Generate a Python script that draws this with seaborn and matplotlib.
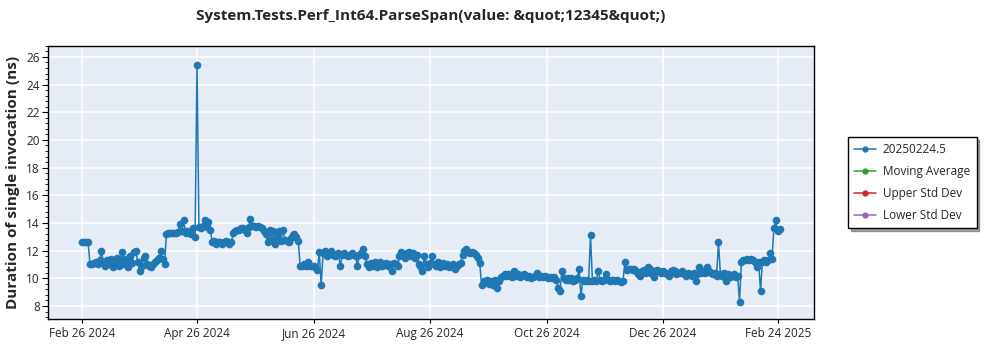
import numpy as np
import pandas as pd
import matplotlib
matplotlib.use("Agg")
import matplotlib.pyplot as plt
import matplotlib.dates as mdates
from matplotlib.lines import Line2D
from matplotlib.ticker import MultipleLocator
import seaborn as sns

title = "System.Tests.Perf_Int64.ParseSpan(value: &quot;12345&quot;)"
ylabel = "Duration of single invocation (ns)"
series_name = "20250224.5"
legend_labels = ["20250224.5", "Moving Average", "Upper Std Dev", "Lower Std Dev"]
start_date = "2024-02-26"

# one value per day starting at start_date
durations = [
    12.6, 12.6, 12.65, 12.6, 11.0, 11.0, 11.1, 11.2, 11.0, 11.3,
    12.0, 11.1, 10.9, 11.3, 11.0, 11.4, 10.8, 11.2, 11.5, 10.9,
    11.3, 11.9, 11.0, 11.4, 10.8, 11.6, 11.1, 11.9, 12.0, 11.2,
    10.5, 10.9, 11.5, 11.6, 11.0, 10.9, 10.8, 11.0, 11.2, 11.3,
    11.5, 12.0, 11.4, 11.0, 13.2, 13.3, 13.25, 13.3, 13.3, 13.3,
    13.35, 13.9, 13.4, 14.2, 13.3, 13.4, 13.3, 13.2, 13.6, 13.0,
    25.4, 13.7, 13.6, 13.8, 14.2, 13.7, 14.1, 13.5, 12.6, 12.7,
    12.5, 12.6, 12.6, 12.5, 12.6, 12.7, 12.6, 12.5, 12.6, 13.3,
    13.4, 13.5, 13.5, 13.6, 13.6, 13.5, 13.3, 13.7, 14.3, 13.8,
    13.8, 13.7, 13.8, 13.7, 13.6, 13.4, 13.2, 12.6, 13.5, 12.8,
    13.4, 12.5, 13.0, 13.4, 12.7, 13.5, 12.8, 12.7, 12.6, 12.9,
    13.1, 13.2, 13.0, 12.7, 10.9, 10.9, 11.0, 10.9, 11.2, 10.9,
    10.9, 10.9, 10.8, 10.6, 11.9, 9.5, 11.8, 12.0, 11.6, 11.8,
    12.0, 11.7, 11.6, 11.7, 11.8, 10.9, 11.7, 11.8, 11.7, 11.6,
    11.7, 11.8, 11.7, 11.6, 10.9, 11.7, 11.8, 12.1, 11.6, 11.0,
    10.8, 11.1, 10.9, 11.2, 10.8, 11.0, 11.2, 10.9, 11.0, 11.1,
    10.9, 11.0, 10.5, 11.1, 11.0, 10.9, 11.6, 11.9, 11.7, 11.5,
    11.8, 11.9, 11.6, 11.8, 11.5, 11.7, 11.0, 10.9, 10.5, 11.6,
    11.0, 10.8, 11.1, 11.6, 11.0, 10.9, 11.2, 10.8, 11.0, 11.1,
    10.9, 11.0, 10.8, 10.9, 11.0, 10.7, 10.9, 11.0, 11.1, 11.7,
    12.0, 12.1, 11.9, 11.8, 11.9, 11.8, 11.7, 11.5, 11.1, 9.5,
    9.8, 9.7, 9.9, 9.6, 9.8, 9.5, 9.9, 9.3, 9.8, 10.1,
    10.2, 10.3, 10.2, 10.3, 10.2, 10.1, 10.5, 10.2, 10.3, 10.1,
    10.2, 10.3, 10.2, 10.1, 10.2, 10.0, 10.1, 10.2, 10.35, 10.1,
    10.2, 10.1, 10.2, 10.1, 10.0, 10.1, 10.0, 10.1, 9.9, 9.3,
    9.1, 10.5, 10.0, 9.9, 10.0, 9.9, 10.0, 9.8, 9.9, 10.0,
    10.65, 8.7, 9.9, 9.8, 9.9, 9.8, 13.1, 9.8, 9.9, 9.8,
    10.55, 9.9, 9.8, 9.9, 10.3, 9.9, 9.8, 9.9, 9.9, 9.8,
    9.9, 9.8, 9.7, 9.8, 11.15, 10.6, 10.7, 10.7, 10.6, 10.7,
    10.5, 10.3, 10.2, 10.5, 10.6, 10.4, 10.8, 10.7, 10.3, 10.1,
    10.5, 10.6, 10.5, 10.4, 10.5, 10.4, 10.3, 10.2, 10.5, 10.6,
    10.5, 10.3, 10.4, 10.4, 10.5, 10.3, 10.2, 10.4, 10.3, 10.2,
    10.4, 9.8, 10.3, 10.85, 10.4, 10.5, 10.4, 10.85, 10.5, 10.4,
    10.3, 10.4, 10.2, 12.6, 10.3, 10.2, 10.4, 9.8, 10.3, 10.1,
    10.2, 10.3, 10.1, 10.2, 8.3, 11.2, 11.3, 11.3, 11.4, 11.3,
    11.4, 11.3, 11.2, 10.85, 11.2, 9.1, 11.2, 11.3, 11.2, 11.3,
    11.85, 11.4, 13.6, 14.2, 13.4, 13.55,
]

tick_dates = ["2024-02-26", "2024-04-26", "2024-06-26", "2024-08-26",
              "2024-10-26", "2024-12-26", "2025-02-24"]
tick_labels = ["Feb 26 2024", "Apr 26 2024", "Jun 26 2024", "Aug 26 2024",
               "Oct 26 2024", "Dec 26 2024", "Feb 24 2025"]
x_limits = ["2024-02-08", "2025-03-15"]
y_limits = (7.06, 26.8)
y_ticks = [8, 10, 12, 14, 16, 18, 20, 22, 24, 26]

colors = ["#1f77b4", "#2ca02c", "#d62728", "#9467bd"]

dates = pd.date_range(start_date, periods=len(durations), freq="D")
df = pd.DataFrame({"date": dates, "value": durations})

sns.set_theme(style="white")
plt.rcParams["font.family"] = ["Open Sans", "DejaVu Sans"]

fig = plt.figure(figsize=(10, 3.5), dpi=100)
ax = fig.add_axes([0.048, 0.0886, 0.766, 0.7804])
ax.set_facecolor("#E5ECF6")

sns.lineplot(data=df, x="date", y="value", ax=ax, color=colors[0],
             linewidth=1.1, marker="o", markersize=5.5, markeredgewidth=0,
             markeredgecolor=colors[0], zorder=3)

ax.set_xlim(pd.Timestamp(x_limits[0]), pd.Timestamp(x_limits[1]))
ax.set_ylim(*y_limits)
ax.set_xticks([pd.Timestamp(d) for d in tick_dates])
ax.set_xticklabels(tick_labels, fontsize=8.5)
ax.set_yticks(y_ticks)
ax.set_yticklabels([str(t) for t in y_ticks], fontsize=8.5)
ax.yaxis.set_minor_locator(MultipleLocator(0.4))
ax.tick_params(axis="y", which="major", length=4, width=0.8, color="black", left=True, pad=2)
ax.tick_params(axis="y", which="minor", length=2, width=0.6, color="black", left=True)
ax.tick_params(axis="x", which="major", length=3, width=0.8, color="black", bottom=True, pad=3)
ax.grid(True, which="major", color="white", linewidth=1.1, zorder=0)
ax.set_axisbelow(True)
for s in ax.spines.values():
    s.set_color("black")
    s.set_linewidth(1.0)

ax.set_xlabel("")
ax.set_ylabel(ylabel, fontsize=11, fontweight="bold", labelpad=4)
fig.suptitle(title, x=0.431, y=0.975, fontsize=11, fontweight="bold")

handles = [Line2D([0], [0], color=c, linewidth=1.1, marker="o", markersize=3.5)
           for c in colors]
leg = fig.legend(handles, legend_labels, loc="upper left",
                 bbox_to_anchor=(0.848, 0.609), borderaxespad=0, fontsize=8.5,
                 frameon=True, fancybox=False, shadow=True,
                 edgecolor="black", framealpha=1, borderpad=0.55,
                 labelspacing=0.75, handlelength=1.8, handletextpad=0.6)
leg.get_frame().set_linewidth(1.0)

fig.savefig("out.png", dpi=100)
